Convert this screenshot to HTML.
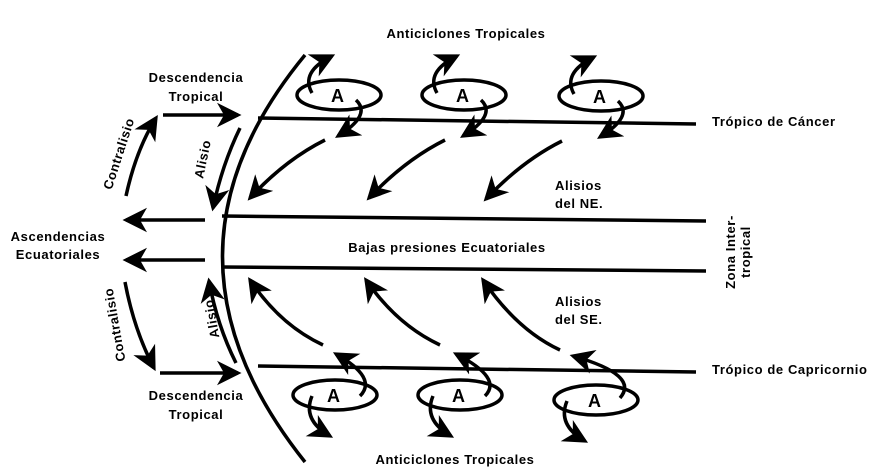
<!DOCTYPE html>
<html><head><meta charset="utf-8"><style>
html,body{margin:0;padding:0;background:#fff;}
svg{display:block;}
text{font-family:"Liberation Sans",sans-serif;fill:#000;font-size:13px;font-weight:bold;letter-spacing:0.6px;}
</style></head><body>
<svg width="894" height="472" viewBox="0 0 894 472" xmlns="http://www.w3.org/2000/svg">
<defs>
<marker id="ah" markerWidth="8" markerHeight="8" refX="6" refY="4" orient="auto" markerUnits="strokeWidth">
<path d="M0,0.5 L7,4 L0,7.5 L2,4 z" fill="#000"/>
</marker>
</defs>
<g fill="none" stroke="#000" stroke-width="3.5">
<path d="M305,55 Q140,255 305,462"/>
<line x1="258" y1="118" x2="696" y2="124"/>
<line x1="222" y1="216" x2="706" y2="221"/>
<line x1="222" y1="267" x2="706" y2="271"/>
<line x1="258" y1="366" x2="696" y2="372"/>
<path d="M240,128 Q222,165 213,208" marker-end="url(#ah)"/>
<path d="M236,363 Q217,325 209,281" marker-end="url(#ah)"/>
<line x1="205" y1="220" x2="126" y2="220" marker-end="url(#ah)"/>
<line x1="205" y1="260" x2="126" y2="260" marker-end="url(#ah)"/>
<line x1="163" y1="115" x2="238" y2="115" marker-end="url(#ah)"/>
<line x1="160" y1="373" x2="238" y2="373" marker-end="url(#ah)"/>
<path d="M126,196 Q136,150 156,118" marker-end="url(#ah)"/>
<path d="M125,282 Q134,330 154,368" marker-end="url(#ah)"/>
<ellipse cx="339" cy="95" rx="42" ry="15"/>
<ellipse cx="464" cy="95" rx="42" ry="15"/>
<ellipse cx="601" cy="96" rx="42" ry="15"/>
<ellipse cx="335" cy="395" rx="42" ry="15"/>
<ellipse cx="460" cy="395" rx="42" ry="15"/>
<ellipse cx="596" cy="400" rx="42" ry="15"/>
<path d="M312,93 Q300,72 332,56" marker-end="url(#ah)"/>
<path d="M437,93 Q425,72 457,56" marker-end="url(#ah)"/>
<path d="M574,94 Q562,73 594,57" marker-end="url(#ah)"/>
<path d="M356,100 Q372,115 338,136" marker-end="url(#ah)"/>
<path d="M481,100 Q497,115 463,136" marker-end="url(#ah)"/>
<path d="M618,101 Q634,116 600,137" marker-end="url(#ah)"/>
<path d="M325,140 Q285,160 250,198" marker-end="url(#ah)"/>
<path d="M445,140 Q405,160 369,198" marker-end="url(#ah)"/>
<path d="M562,141 Q522,161 486,199" marker-end="url(#ah)"/>
<path d="M323,345 Q280,325 250,280" marker-end="url(#ah)"/>
<path d="M440,345 Q397,325 366,280" marker-end="url(#ah)"/>
<path d="M560,350 Q517,330 483,280" marker-end="url(#ah)"/>
<path d="M360,396 Q378,378 336,354" marker-end="url(#ah)"/>
<path d="M485,396 Q503,378 456,354" marker-end="url(#ah)"/>
<path d="M620,398 Q640,375 573,356" marker-end="url(#ah)"/>
<path d="M312,396 Q302,420 330,436" marker-end="url(#ah)"/>
<path d="M433,396 Q423,420 451,436" marker-end="url(#ah)"/>
<path d="M567,401 Q557,425 585,441" marker-end="url(#ah)"/>
</g>
<g>
<text x="331" y="102" style="font-size:18px">A</text>
<text x="456" y="102" style="font-size:18px">A</text>
<text x="593" y="103" style="font-size:18px">A</text>
<text x="327" y="402" style="font-size:18px">A</text>
<text x="452" y="402" style="font-size:18px">A</text>
<text x="588" y="407" style="font-size:18px">A</text>
</g>
<text x="466" y="38" text-anchor="middle">Anticiclones Tropicales</text>
<text x="455" y="464" text-anchor="middle">Anticiclones Tropicales</text>
<text x="196" y="82" text-anchor="middle">Descendencia</text>
<text x="196" y="101" text-anchor="middle">Tropical</text>
<text x="196" y="400" text-anchor="middle">Descendencia</text>
<text x="196" y="419" text-anchor="middle">Tropical</text>
<text x="58" y="241" text-anchor="middle">Ascendencias</text>
<text x="58" y="259" text-anchor="middle">Ecuatoriales</text>
<text x="712" y="126">Trópico de Cáncer</text>
<text x="712" y="374">Trópico de Capricornio</text>
<text x="555" y="190">Alisios</text>
<text x="555" y="208">del NE.</text>
<text x="555" y="306">Alisios</text>
<text x="555" y="324">del SE.</text>
<text x="447" y="252" text-anchor="middle">Bajas presiones Ecuatoriales</text>
<text transform="translate(735,252) rotate(-90)" text-anchor="middle">Zona Inter-</text>
<text transform="translate(750,252) rotate(-90)" text-anchor="middle">tropical</text>
<text transform="translate(123,155) rotate(-72)" text-anchor="middle">Contralisio</text>
<text transform="translate(207,160) rotate(-78)" text-anchor="middle">Alisio</text>
<text transform="translate(119,324) rotate(-100)" text-anchor="middle">Contralisio</text>
<text transform="translate(216,318) rotate(-100)" text-anchor="middle">Alisio</text>
</svg>
</body></html>
